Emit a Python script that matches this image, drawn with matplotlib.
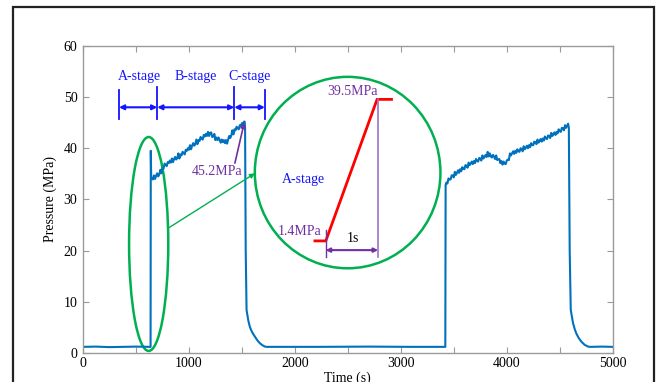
import numpy as np
import matplotlib
matplotlib.use("Agg")
import matplotlib.pyplot as plt
from matplotlib.patches import Ellipse, Rectangle

plt.rcParams['font.family'] = ['Liberation Serif', 'DejaVu Serif']
plt.rcParams['font.size'] = 10

# --- data (time in s, pressure in MPa) ---
# first baseline and injection spike
t_base1 = [0, 120, 250, 380, 500, 620, 638, 640, 644]
p_base1 = [1.2, 1.25, 1.15, 1.2, 1.25, 1.2, 1.2, 39.5, 34.0]

# first loading cycle, sampled every 10 s from 650 s
cycle1_start, cycle1_step = 650, 10
p_cycle1 = [34.2, 33.9, 34.7, 34.0, 34.6, 35.1, 34.5, 34.9, 35.8, 35.1,
            36.1, 36.0, 37.0, 36.8, 36.5, 37.3, 37.1, 37.6, 37.2, 38.0,
            37.3, 37.9, 38.3, 37.8, 38.1, 39.0, 38.0, 38.8, 38.6, 39.3,
            39.1, 38.8, 39.7, 39.5, 40.0, 39.7, 40.6, 39.8, 40.5, 41.0,
            40.5, 40.8, 41.7, 40.8, 41.6, 41.4, 42.2, 41.9, 41.7, 42.6,
            42.3, 42.8, 42.4, 43.2, 42.4, 43.0, 43.1, 42.2, 42.3, 42.8,
            41.6, 42.1, 41.6, 42.1, 41.6, 41.1, 41.7, 41.2, 41.6, 41.0,
            41.6, 40.9, 41.7, 42.4, 42.0, 42.5, 43.5, 42.7, 43.7, 43.5,
            44.2, 43.9, 43.7, 44.5, 44.3, 44.9, 44.6, 45.2]

# first unloading, long baseline and second injection
t_drop1 = [1526, 1530, 1536, 1544, 1560, 1575, 1591, 1607, 1623, 1645,
           1670, 1695, 1717, 1740, 2200, 2700, 3100, 3420, 3423]
p_drop1 = [45.2, 44.0, 20.0, 8.4, 6.4, 5.1, 4.3, 3.7, 3.2, 2.5,
           1.9, 1.5, 1.25, 1.2, 1.2, 1.25, 1.2, 1.2, 32.8]

# second loading cycle, sampled every 10 s from 3430 s
cycle2_start, cycle2_step = 3430, 10
p_cycle2 = [33.3, 33.1, 34.1, 33.9, 33.9, 34.7, 34.7, 34.3, 35.4, 34.8,
            35.2, 35.7, 35.2, 35.9, 35.5, 36.3, 36.0, 35.9, 36.7, 36.6,
            36.2, 37.2, 36.7, 37.0, 37.4, 36.9, 37.5, 37.1, 37.9, 37.5,
            37.4, 38.1, 38.0, 37.6, 38.6, 38.0, 38.3, 38.7, 38.3, 39.3,
            38.4, 39.0, 38.4, 38.2, 38.7, 38.4, 37.9, 38.6, 37.7, 37.8,
            37.9, 37.1, 37.5, 36.8, 37.4, 37.0, 36.9, 37.6, 37.8, 37.7,
            39.0, 38.6, 39.0, 39.4, 38.9, 39.5, 39.1, 39.8, 39.4, 39.3,
            40.0, 39.9, 39.4, 40.4, 39.8, 40.1, 40.5, 40.0, 40.6, 40.2,
            41.0, 40.6, 40.6, 41.3, 41.2, 40.8, 41.7, 41.1, 41.4, 41.8,
            41.3, 41.9, 41.5, 42.3, 41.9, 41.8, 42.5, 42.4, 42.0, 43.0,
            42.4, 42.7, 43.1, 42.6, 43.2, 42.9, 43.7, 43.3, 43.2, 44.0,
            43.9, 43.5, 44.5, 44.0, 44.4]

# second unloading and final baseline
t_drop2 = [4579, 4586, 4594, 4604, 4626, 4641, 4657, 4680, 4705, 4735,
           4767, 4790, 4900, 5000]
p_drop2 = [44.8, 44.0, 20.0, 8.4, 5.8, 4.7, 3.8, 2.9, 2.2, 1.6,
           1.25, 1.2, 1.25, 1.2]

# zoomed A-stage ramp shown in the circle
ramp_low, ramp_high = 1.4, 39.5

t_cycle1 = cycle1_start + cycle1_step * np.arange(len(p_cycle1))
t_cycle2 = cycle2_start + cycle2_step * np.arange(len(p_cycle2))
t_all = np.concatenate([t_base1, t_cycle1, t_drop1, t_cycle2, t_drop2])
p_all = np.concatenate([p_base1, p_cycle1, p_drop1, p_cycle2, p_drop2])

blue = '#0072BD'
stage_blue = '#1414FF'
purple = '#7030A0'
green = '#00B050'

fig = plt.figure(figsize=(6.56, 3.82), dpi=100)
ax = fig.add_axes([0.1265, 0.0759, 0.8075, 0.804])

ax.plot(t_all, p_all, color=blue, lw=1.5)

ax.set_xlim(0, 5000)
ax.set_ylim(0, 60)
xt = list(range(0, 5001, 500))
ax.set_xticks(xt)
ax.set_xticklabels([str(v) if v % 1000 == 0 else '' for v in xt])
ax.set_yticks(range(0, 61, 10))
ax.tick_params(direction='in', length=4, color='#9a9a9a', top=True, right=True,
               labelsize=10, pad=3)
ax.tick_params(axis='y', pad=4)
for s in ax.spines.values():
    s.set_color('#9a9a9a')
    s.set_linewidth(1.0)
ax.set_xlabel('Time (s)', labelpad=1)
ax.set_ylabel('Pressure (MPa)', labelpad=5)

# stage markers
stage_edges = [340, 701, 1428, 1717]
stage_names = ['A-stage', 'B-stage', 'C-stage']
for i, x in enumerate(stage_edges):
    top = 51.9 if i in (1, 2) else 51.4
    ax.plot([x, x], [45.8, top], color=stage_blue, lw=1.3)
for i in range(3):
    ax.annotate('', xy=(stage_edges[i + 1], 48.0), xytext=(stage_edges[i], 48.0),
                arrowprops=dict(arrowstyle='<|-|>', color=stage_blue, lw=1.5,
                                mutation_scale=7, shrinkA=0, shrinkB=0))
    ax.text((stage_edges[i] + stage_edges[i + 1]) / 2 + (15 if i == 0 else 0), 54.0,
            stage_names[i], color=stage_blue, ha='center', va='center', fontsize=10)

# peak annotation
ax.annotate('', xy=(1522, 45.0), xytext=(1434, 37.1),
            arrowprops=dict(arrowstyle='-|>', color=purple, lw=1.2,
                            mutation_scale=7, shrinkA=0, shrinkB=0))
ax.text(1261, 35.4, '45.2MPa', color=purple, ha='center', va='center', fontsize=10)

# green ellipse around the spike, pointer and magnifier circle
ax.add_patch(Ellipse((620, 21.3), 370, 41.8, fill=False, edgecolor=green, lw=1.8))
ax.annotate('', xy=(1623, 35.1), xytext=(805, 24.4),
            arrowprops=dict(arrowstyle='-|>', color=green, lw=1.0,
                            mutation_scale=7, shrinkA=0, shrinkB=0))
ax.add_patch(Ellipse((2498, 35.25), 1752, 37.4, fill=False, edgecolor=green, lw=1.8))

# zoomed ramp inside the circle
ax.plot([2189, 2292, 2776, 2912],
        [21.9, 21.9, 49.55, 49.55], color='red', lw=2.0, solid_joinstyle='miter')
ax.plot([2786, 2786], [49.55, 18.8], color='#9b72c8', lw=1.2)
ax.plot([2290, 2290], [24.0, 18.8], color=purple, lw=1.0)
ax.annotate('', xy=(2786, 20.1), xytext=(2290, 20.1),
            arrowprops=dict(arrowstyle='<|-|>', color=purple, lw=1.5,
                            mutation_scale=6, shrinkA=0, shrinkB=0))
ax.text(2544, 22.3, '1s', color='black', ha='center', va='center', fontsize=10)
ax.text(2544, 51.0, f'{ramp_high}MPa', color=purple, ha='center', va='center', fontsize=10)
ax.text(2047, 23.7, f'{ramp_low}MPa', color=purple, ha='center', va='center', fontsize=10)
ax.text(2078, 33.8, 'A-stage', color=stage_blue, ha='center', va='center', fontsize=10)

# outer frame of the original figure
fig.add_artist(Rectangle((13 / 656, -0.1), (654 - 13) / 656, (382 - 7) / 382 + 0.1,
                         transform=fig.transFigure, fill=False, edgecolor='#222222',
                         lw=1.6, clip_on=False))

fig.savefig('out.png', dpi=100)
